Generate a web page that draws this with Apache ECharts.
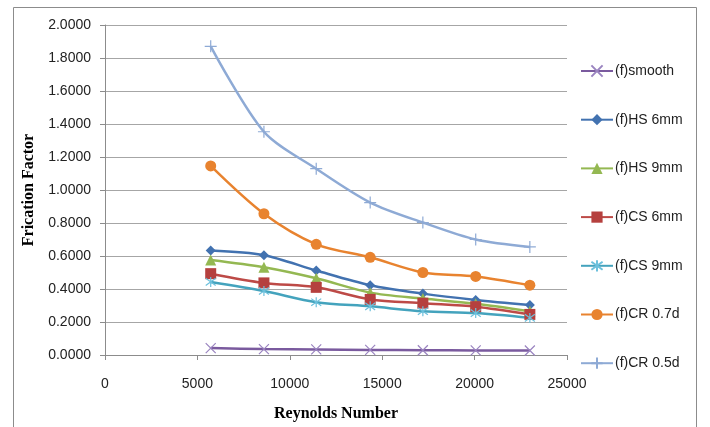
<!DOCTYPE html>
<html>
<head>
<meta charset="utf-8">
<script src="https://cdn.jsdelivr.net/npm/echarts@6/dist/echarts.min.js"></script>
<style>html,body{margin:0;padding:0;background:#fff;}#c{width:710px;height:427px;}</style>
</head>
<body>
<div id="c"></div>
<script>
var reynolds = [5720, 8600, 11430, 14350, 17200, 20060, 22990];
var seriesNames = ['(f)smooth', '(f)HS 6mm', '(f)HS 9mm', '(f)CS 6mm', '(f)CS 9mm', '(f)CR 0.7d', '(f)CR 0.5d'];
var fSmooth = [0.042, 0.036, 0.034, 0.031, 0.029, 0.028, 0.027];
var fHS6 = [0.633, 0.605, 0.512, 0.423, 0.372, 0.334, 0.303];
var fHS9 = [0.576, 0.532, 0.465, 0.378, 0.342, 0.311, 0.265];
var fCS6 = [0.493, 0.437, 0.410, 0.337, 0.314, 0.293, 0.246];
var fCS9 = [0.443, 0.388, 0.320, 0.295, 0.265, 0.254, 0.225];
var fCR07 = [1.146, 0.856, 0.671, 0.592, 0.500, 0.476, 0.423];
var fCR05 = [1.871, 1.353, 1.129, 0.924, 0.803, 0.700, 0.655];
var yTicks = [0, 0.2, 0.4, 0.6, 0.8, 1.0, 1.2, 1.4, 1.6, 1.8, 2.0];

function pairs(vals) { return reynolds.map(function (x, i) { return [x, vals[i]]; }); }

var symX = 'path://M0,0L10,10M10,0L0,10';
var symPlus = 'path://M5,0L5,10M0,5L10,5';
var symStar = 'path://M0,0L10,10M10,0L0,10M5,-2L5,12';

function mk(name, vals, color, mcolor, symbol, size, stroke) {
  return {
    name: name, type: 'line', data: pairs(vals), smooth: 0.3,
    symbol: symbol, symbolSize: size, showSymbol: true,
    lineStyle: { color: color, width: 2.5 },
    itemStyle: stroke ? { color: 'rgba(0,0,0,0)', borderColor: mcolor, borderWidth: 1.2 } : { color: mcolor, borderColor: mcolor, borderWidth: 0 },
    emphasis: { disabled: true }
  };
}

var chart = echarts.init(document.getElementById('c'), null, { renderer: 'canvas' });
chart.setOption({
  animation: false,
  backgroundColor: '#fff',
  graphic: [{ type: 'rect', shape: { x: 13.5, y: 7.5, width: 683, height: 440 }, style: { fill: 'none', stroke: '#8c8c8c', lineWidth: 1 }, silent: true }],
  grid: { left: 105, right: 143, top: 25, bottom: 65, containLabel: false },
  legend: {
    orient: 'vertical', left: 575, top: 59, itemWidth: 32, itemHeight: 14, itemGap: 34.7,
    textStyle: { fontFamily: 'Liberation Sans', fontSize: 14, color: '#222', padding: [0, 0, 0, -3] },
    data: seriesNames
  },
  xAxis: {
    type: 'value', min: 0, max: 25000, interval: 5000,
    name: 'Reynolds Number', nameLocation: 'middle', nameGap: 51,
    nameTextStyle: { fontFamily: 'Liberation Serif', fontWeight: 'bold', fontSize: 16, color: '#000' },
    axisLine: { show: true, lineStyle: { color: '#8c8c8c', width: 1 } },
    axisTick: { show: true, length: 5, lineStyle: { color: '#8c8c8c' } },
    axisLabel: { margin: 22, fontFamily: 'Liberation Sans', fontSize: 14, color: '#222', formatter: function (v) { return String(v); } },
    splitLine: { show: false }
  },
  yAxis: {
    type: 'value', min: yTicks[0], max: yTicks[yTicks.length - 1], interval: 0.2,
    name: 'Frication Factor', nameLocation: 'middle', nameGap: 65, nameRotate: 90,
    nameTextStyle: { fontFamily: 'Liberation Serif', fontWeight: 'bold', fontSize: 16, color: '#000' },
    axisLine: { show: true, lineStyle: { color: '#8c8c8c', width: 1 } },
    axisTick: { show: true, length: 5, lineStyle: { color: '#8c8c8c' } },
    axisLabel: { margin: 14, fontFamily: 'Liberation Sans', fontSize: 14, color: '#222', formatter: function (v) { return v.toFixed(4); } },
    splitLine: { show: true, lineStyle: { color: '#a6a6a6', width: 1 } }
  },
  series: [
    mk(seriesNames[0], fSmooth, '#7a5a9e', '#9a84c0', symX, 10, true),
    mk(seriesNames[1], fHS6, '#4272b0', '#4272b0', 'diamond', 10, false),
    mk(seriesNames[2], fHS9, '#94b852', '#94b852', 'triangle', 11, false),
    mk(seriesNames[3], fCS6, '#bd4a47', '#b5403e', 'rect', 11, false),
    mk(seriesNames[4], fCS9, '#44a3bd', '#6cc0dc', symStar, 10, true),
    mk(seriesNames[5], fCR07, '#e8832f', '#e8832f', 'circle', 11, false),
    mk(seriesNames[6], fCR05, '#8eaad5', '#8eaad5', symPlus, 12, true)
  ]
});
</script>
</body>
</html>
